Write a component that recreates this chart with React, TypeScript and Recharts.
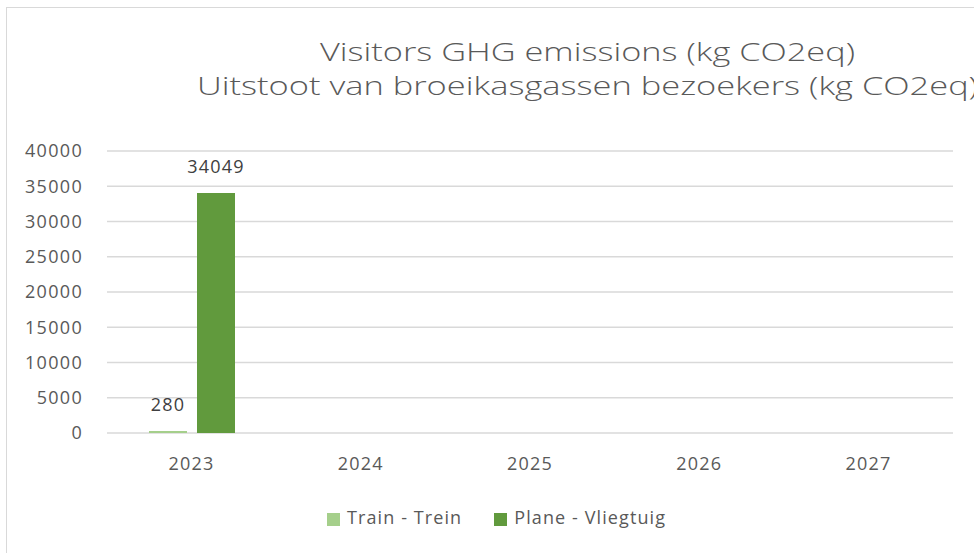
import { Bar, BarChart, CartesianGrid, LabelList, Legend, XAxis, YAxis } from "recharts";

const years = ["2023", "2024", "2025", "2026", "2027"];
const trainValues: (number | null)[] = [280, null, null, null, null];
const planeValues: (number | null)[] = [34049, null, null, null, null];
const yTicks = [0, 5000, 10000, 15000, 20000, 25000, 30000, 35000, 40000];
const seriesNames = ["Train - Trein", "Plane - Vliegtuig"];

const titleLines = ["Visitors GHG emissions (kg CO2eq)", "Uitstoot van broeikasgassen bezoekers (kg CO2eq)"];

const TRAIN_COLOR = "#a5cf8b";
const PLANE_COLOR = "#619a3d";
const FONT = "'Open Sans', sans-serif";

const data = years.map((year, i) => ({ year, train: trainValues[i], plane: planeValues[i] }));

const App = (): JSX.Element => {
  return (
    <div style={{ position: "absolute", left: 0, top: 0, width: 974, height: 553, overflow: "hidden", background: "#fff" }}>
      <div
        style={{
          position: "absolute",
          left: 6,
          top: 7,
          width: 1200,
          height: 700,
          borderLeft: "1px solid #d9d9d9",
          borderTop: "1px solid #d9d9d9"
        }}
      />
      <svg width={974} height={130} style={{ position: "absolute", left: 0, top: 0 }}>
        <text
          x={587.5}
          y={61}
          textAnchor="middle"
          fill="#595959"
          fontFamily={FONT}
          fontWeight={300}
          fontSize={26}
          textLength={535}
          lengthAdjust="spacingAndGlyphs"
        >
          {titleLines[0]}
        </text>
        <text
          x={587.5}
          y={95}
          textAnchor="middle"
          fill="#595959"
          fontFamily={FONT}
          fontWeight={300}
          fontSize={26}
          textLength={781}
          lengthAdjust="spacingAndGlyphs"
        >
          {titleLines[1]}
        </text>
      </svg>
      <div style={{ position: "absolute", left: 0, top: 0 }}>
        <BarChart
          width={974}
          height={553}
          data={data}
          margin={{ top: 151, right: 21, bottom: 90, left: 0 }}
          barSize={38}
          barGap={10}
        >
          <CartesianGrid vertical={false} stroke="#d9d9d9" strokeWidth={1.3} />
          <XAxis
            dataKey="year"
            height={30}
            axisLine={false}
            tickLine={false}
            tickSize={0}
            tickMargin={24}
            tick={{ fill: "#595959", fontSize: 18, fontFamily: FONT, letterSpacing: 1.2 }}
          />
          <YAxis
            width={107}
            domain={[0, 40000]}
            ticks={yTicks}
            axisLine={false}
            tickLine={false}
            tickSize={0}
            tickMargin={24}
            tick={{ fill: "#595959", fontSize: 18, fontFamily: FONT, letterSpacing: 1.3 }}
          />
          <Legend
            layout="horizontal"
            align="center"
            verticalAlign="middle"
            iconType="square"
            iconSize={13}
            itemSorter={(entry: { value: string }) => seriesNames.indexOf(entry.value)}
            wrapperStyle={{ top: 505, left: 327, width: "auto", fontFamily: FONT, fontSize: 18 }}
            formatter={(value: string) => (
              <span style={{ color: "#595959", marginLeft: 3, marginRight: 22, letterSpacing: 1.1 }}>{value}</span>
            )}
          />
          <Bar dataKey="train" name={seriesNames[0]} fill={TRAIN_COLOR} isAnimationActive={false}>
            <LabelList dataKey="train" position="top" offset={20} fill="#404040" fontSize={18} fontFamily={FONT} letterSpacing={1.2} />
          </Bar>
          <Bar dataKey="plane" name={seriesNames[1]} fill={PLANE_COLOR} isAnimationActive={false}>
            <LabelList dataKey="plane" position="top" offset={20} fill="#404040" fontSize={18} fontFamily={FONT} letterSpacing={1.2} />
          </Bar>
        </BarChart>
      </div>
    </div>
  );
};

export default App;
